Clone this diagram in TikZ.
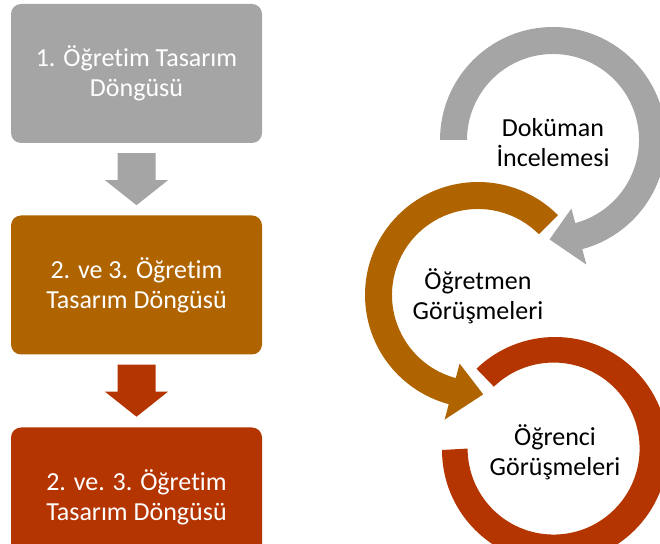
\documentclass[tikz,border=0pt]{standalone}
\usepackage{fontspec}
\setmainfont{Carlito}[Ligatures=NoCommon]
\usetikzlibrary{calc}
\definecolor{cgray}{HTML}{A5A5A5}
\definecolor{cbrown}{HTML}{AF6400}
\definecolor{cred}{HTML}{B43500}
\tikzset{
  stagebox/.style={rounded corners=10pt, minimum width=251pt, minimum height=139pt,
    inner sep=0pt, text=white, align=center, font=\fontsize{26}{30}\selectfont},
  cyclelabel/.style={align=center, text=black, font=\fontsize{26}{30}\selectfont},
}
% block arrow pointing down, drawn relative to the current origin
\newcommand{\downblock}[1]{%
  \fill[#1] (-19,-10) -- (19,-10) -- (19,-37) -- (31.5,-37) -- (0,-62)
    -- (-31.5,-37) -- (-19,-37) -- cycle;}
\begin{document}
\begin{tikzpicture}[x=1pt,y=1pt]
\useasboundingbox (0,0) rectangle (660,543);
\clip (0,0) rectangle (660,543);

% stages on the left
\node[stagebox, fill=cgray]  (b1) at (136.5,469.5) {1. Öğretim Tasarım\\Döngüsü};
\node[stagebox, fill=cbrown] (b2) at (136.5,258) {2. ve 3. Öğretim\\Tasarım Döngüsü};
\node[stagebox, fill=cred]   (b3) at (136.5,46) {2. ve. 3. Öğretim\\Tasarım Döngüsü};
\begin{scope}[shift={(b1.south)}]\downblock{cgray}\end{scope}
\begin{scope}[shift={(b2.south)}]\downblock{cred}\end{scope}

% centres of the three cycles
\coordinate (gc) at (553,403);
\coordinate (bc) at (478,248);
\coordinate (rc) at (555,93);

% red ring (gap on the upper left)
\begin{scope}[shift={(rc)}]
  \fill[cred] (180:113) arc[start angle=180, end angle=494, radius=113]
    -- (494:88) arc[start angle=494, end angle=180, radius=86] -- cycle;
\end{scope}

% grey circular arrow, running clockwise
\begin{scope}[shift={(gc)}]
  \fill[cgray] (180:113) arc[start angle=180, end angle=-75, radius=113]
    -- (-75:129) -- (-92:99.5) -- (-75:71) -- (-75:86)
    arc[start angle=-75, end angle=180, radius=86] -- cycle;
\end{scope}

% brown circular arrow, running counter-clockwise
\begin{scope}[shift={(bc)}]
  \fill[cbrown] (45:113) arc[start angle=45, end angle=255, radius=113]
    -- (255:129) -- (273:99.5) -- (255:71) -- (255:86)
    arc[start angle=255, end angle=45, radius=86] -- cycle;
\end{scope}

% labels inside the cycles
\node[cyclelabel] (dok) at ($(gc)+(0,-3)$) {Doküman\\İncelemesi};
\node[cyclelabel] (ogr) at ($(bc)+(0,-1)$) {Öğretmen\\Görüşmeleri};
\node[cyclelabel] (ogc) at ($(rc)+(0,-2)$) {Öğrenci\\Görüşmeleri};
\end{tikzpicture}
\end{document}
